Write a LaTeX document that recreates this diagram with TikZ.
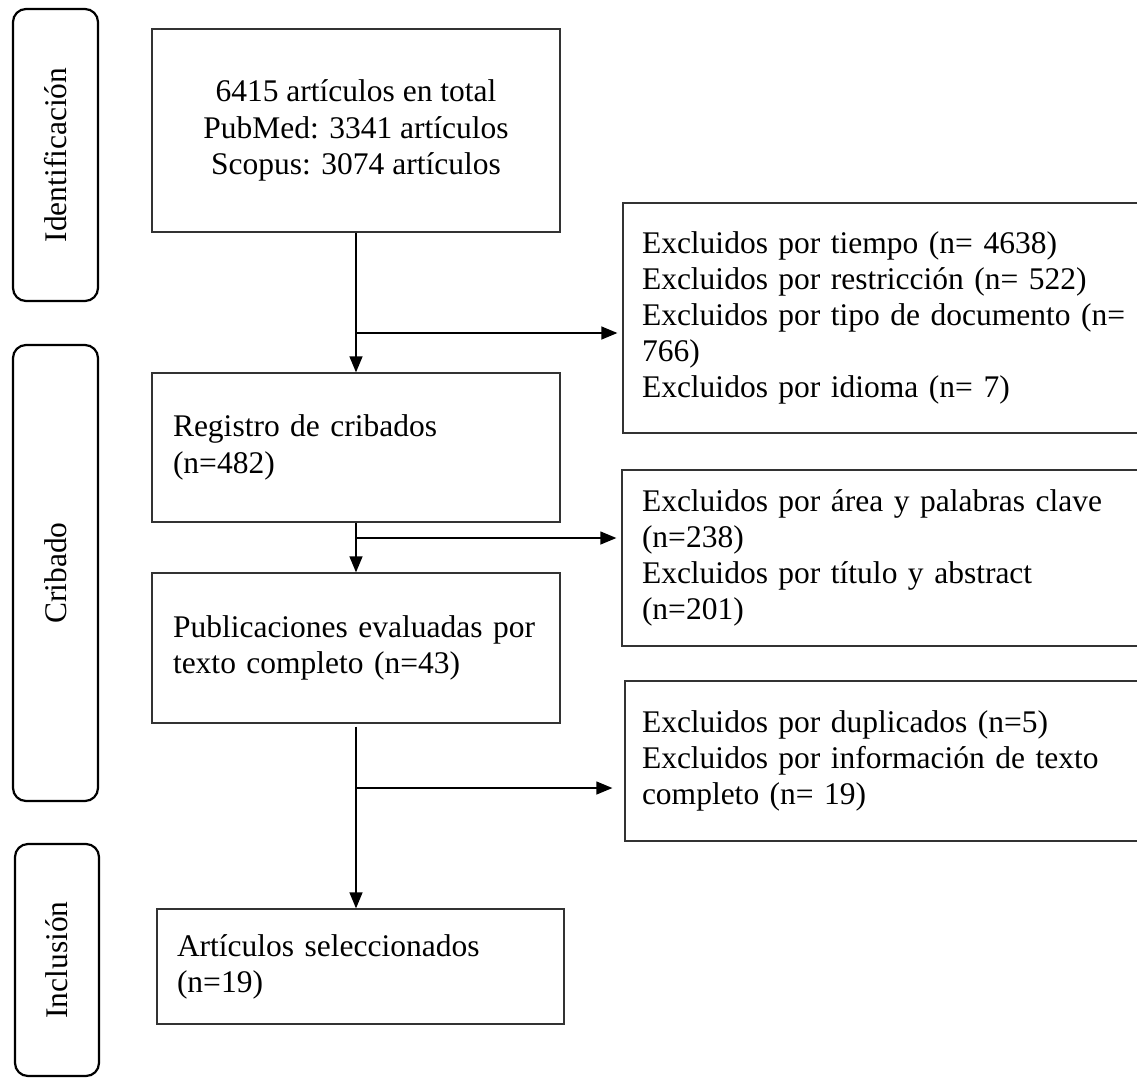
\documentclass[tikz,border=0pt]{standalone}
\usepackage{fontspec}
\setmainfont{Liberation Serif}
\usetikzlibrary{arrows.meta}
\begin{document}
\begin{tikzpicture}[x=1pt,y=-1pt,
  every node/.style={font=\fontsize{31.5}{36.2}\selectfont},
  box/.style={draw=black!80, line width=1.3pt, inner ysep=0pt},
  side/.style={draw=black, line width=2.2pt, rounded corners=13pt, rotate=90, inner sep=0pt},
  conn/.style={line width=1.3pt},
  arr/.style={conn, -{Triangle[length=16pt,width=13pt]}}]
\useasboundingbox (0,0) rectangle (1137,1077);

% phase labels
\node[side, minimum width=292pt, minimum height=85pt] (sid) at (55.5,155) {Identificación};
\node[side, minimum width=456pt, minimum height=85pt] (scr) at (55.5,573) {Cribado};
\node[side, minimum width=232pt, minimum height=84pt] (sinc) at (57,960) {Inclusión};

% main column
\node[box, minimum width=408pt, minimum height=203pt, align=center, inner xsep=0pt] (b1) at (356,130.5)
  {6415 artículos en total\\PubMed: 3341 artículos\\Scopus: 3074 artículos};
\node[box, text width=366pt, inner xsep=21pt, align=left, minimum height=149pt] (b2) at (356,447.5)
  {Registro de cribados\\(n=482)};
\node[box, text width=366pt, inner xsep=21pt, align=left, minimum height=150pt] (b3) at (356,648)
  {Publicaciones evaluadas por\\texto completo (n=43)};
\node[box, text width=367pt, inner xsep=20pt, align=left, minimum height=115pt] (b4) at (360.5,966.5)
  {Artículos seleccionados\\(n=19)};

% exclusion boxes (open on the right edge)
\node[box, text width=489pt, inner xsep=19pt, align=left, minimum height=230pt] (r1) at (886.5,318)
  {Excluidos por tiempo (n= 4638)\\Excluidos por restricción (n= 522)\\Excluidos por tipo de documento (n=\\766)\\Excluidos por idioma (n= 7)};
\node[box, text width=488pt, inner xsep=20pt, align=left, minimum height=176pt] (r2) at (886,558)
  {Excluidos por área y palabras clave\\(n=238)\\Excluidos por título y abstract\\(n=201)};
\node[box, text width=491pt, inner xsep=17pt, align=left, minimum height=160pt] (r3) at (887.5,761)
  {Excluidos por duplicados (n=5)\\Excluidos por información de texto\\completo (n= 19)};

% junctions
\coordinate (j1) at (356,333);
\coordinate (j2) at (356,538);
\coordinate (j3) at (356,788);

% connectors
\draw[arr] (b1.south) -- (b2.north);
\draw[arr, shorten >=5pt] (j1) -- (j1 -| r1.west);
\draw[arr] (b2.south) -- (b3.north);
\draw[arr, shorten >=5pt] (j2) -- (j2 -| r2.west);
\draw[arr] ([yshift=-3pt]b3.south) -- (b4.north -| b3.south);
\draw[arr, shorten >=12pt] (j3) -- (j3 -| r3.west);
\end{tikzpicture}
\end{document}
